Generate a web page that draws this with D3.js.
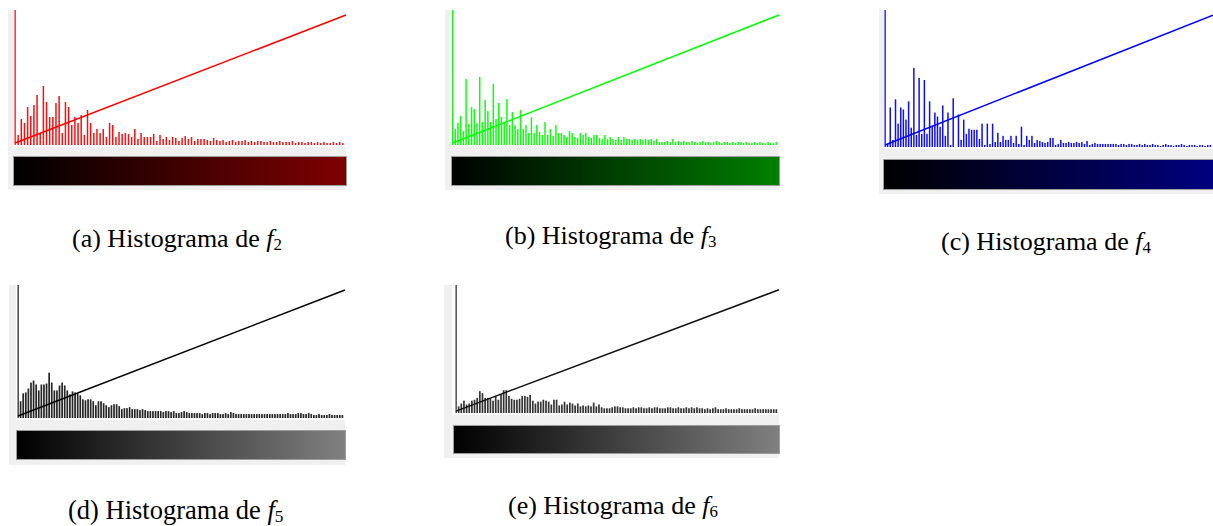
<!DOCTYPE html>
<html>
<head>
<meta charset="utf-8">
<script src="https://cdn.jsdelivr.net/npm/d3@7"></script>
<style>
  body { margin: 0; background: #fff; }
  svg { display: block; }
</style>
</head>
<body>
<div id="chart"></div>
<script>
// histogram heights (first bin is the clipped level 0)
var histA = [135, 10, 26, 22, 38, 29, 40, 50, 12, 59, 43, 28, 28, 42, 49, 12, 43, 38, 20, 28,
  22, 30, 10, 35, 22, 12, 16, 12, 16, 8, 22, 20, 8, 13, 11, 12, 11, 8, 16, 6,
  12, 8, 8, 8, 11, 4, 10, 6, 8, 5, 8, 7, 4, 7, 9, 6, 8, 4, 6, 6,
  6, 5, 4, 7, 5, 4, 5, 3, 4, 5, 3, 4, 4, 5, 3, 4, 3, 4, 4, 3,
  3, 4, 3, 3, 4, 3, 3, 3, 4, 2, 3, 3, 2, 3, 3, 2, 3, 2, 3, 2, 2, 3, 2, 3, 2];
var histB = [135, 16, 22, 29, 14, 66, 21, 38, 36, 22, 68, 23, 45, 34, 23, 61, 26, 42, 28, 23,
  46, 20, 33, 20, 16, 35, 16, 20, 12, 28, 12, 20, 13, 10, 23, 10, 16, 9, 20, 12,
  12, 10, 8, 14, 12, 8, 7, 12, 10, 12, 8, 7, 10, 10, 7, 6, 10, 6, 8, 6,
  5, 8, 5, 8, 6, 6, 5, 6, 5, 6, 5, 6, 5, 6, 4, 6, 3, 3, 3, 4,
  3, 6, 3, 4, 3, 4, 3, 3, 4, 3, 2, 3, 4, 3, 3, 2, 3, 4, 3, 2,
  3, 3, 2, 3, 2, 3, 3, 2, 3, 2, 2, 3, 2, 3, 2, 2, 3, 2, 2, 3];
var histC = [135, 3, 39, 7, 47, 23, 39, 37, 27, 45, 19, 78, 12, 68, 13, 66, 13, 45, 21, 34,
  30, 20, 41, 11, 34, 2, 48, 0, 32, 7, 27, 13, 18, 17, 17, 17, 8, 23, 2, 23,
  3, 23, 5, 14, 5, 11, 7, 7, 11, 4, 11, 3, 20, 2, 11, 7, 11, 4, 7, 6,
  5, 4, 5, 9, 9, 2, 3, 7, 4, 4, 5, 4, 4, 5, 4, 5, 3, 6, 2, 3,
  4, 3, 3, 3, 3, 3, 3, 3, 3, 2, 3, 3, 2, 3, 3, 2, 2, 3, 2, 3,
  2, 2, 3, 2, 2, 1, 2, 3, 2, 2, 1, 2, 2, 3, 2, 1, 2, 2, 2, 1, 2, 2, 1, 2, 2];
var histD = [135, 17, 25, 26, 30, 36, 38, 34, 28, 34, 34, 35, 46, 36, 28, 28, 33, 36, 33, 28,
  24, 27, 26, 25, 23, 19, 18, 19, 19, 17, 13, 17, 17, 15, 13, 11, 13, 14, 14, 12,
  9, 10, 10, 11, 9, 9, 9, 8, 9, 8, 7, 7, 7, 7, 7, 7, 6, 7, 7, 6,
  7, 5, 5, 6, 7, 6, 5, 5, 5, 5, 5, 4, 5, 5, 4, 5, 5, 5, 4, 4,
  5, 4, 6, 5, 4, 4, 4, 4, 4, 4, 4, 4, 4, 4, 4, 4, 4, 4, 4, 4,
  4, 4, 4, 4, 5, 4, 4, 4, 5, 5, 4, 4, 5, 4, 3, 3, 4, 3, 3, 3, 4, 3, 3, 3, 3, 3];
var histE = [135, 7, 10, 13, 9, 10, 13, 14, 16, 23, 21, 16, 16, 15, 13, 18, 14, 20, 24, 24,
  18, 15, 14, 14, 15, 18, 18, 17, 19, 13, 10, 12, 12, 14, 13, 12, 9, 14, 14, 8,
  9, 12, 9, 11, 10, 8, 10, 7, 8, 7, 8, 7, 11, 7, 9, 6, 5, 5, 5, 6,
  7, 7, 6, 6, 5, 5, 5, 6, 5, 6, 6, 5, 5, 6, 5, 6, 6, 5, 5, 5,
  6, 6, 5, 5, 6, 5, 5, 6, 5, 6, 5, 6, 5, 5, 4, 5, 4, 5, 6, 4,
  4, 4, 5, 4, 4, 4, 4, 5, 4, 4, 4, 4, 4, 5, 4, 4, 4, 4, 4, 4, 4, 4];

// transfer line: output level at first and last bin
var transferLine = [2, 130];

var captionLetters = ["a", "b", "c", "d", "e"];
var captionIndex = ["2", "3", "4", "5", "6"];

var svgWidth = 1213;
var svgHeight = 526;

var svg = d3.select("#chart")
  .append("svg")
  .attr("width", svgWidth)
  .attr("height", svgHeight);

var defs = svg.append("defs");

// layout of the five panels (cap = x, baseline, font size)
var panels = [
  {hist: histA, color: "#ff0000", end: "#800000",
   box: [8, 346, 10, 190], plot: [14, 15, 10, 145, 147], grad: [13, 156, 185], cap: [72, 247, 26]},
  {hist: histB, color: "#00ff00", end: "#008000",
   box: [445, 779, 10, 190], plot: [450, 452.5, 10, 145, 146], grad: [451, 156, 185], cap: [505, 244, 26]},
  {hist: histC, color: "#0000ff", end: "#000080",
   box: [879, 1213, 10, 194], plot: [884, 885, 10, 147, 149], grad: [883, 159, 189], cap: [941, 250, 26]},
  {hist: histD, color: "#000000", end: "#808080",
   box: [9, 345, 285, 465], plot: [16, 18, 285, 418, 420], grad: [16, 430, 459], cap: [68, 519, 26.5]},
  {hist: histE, color: "#111111", end: "#808080",
   box: [444, 779, 285, 458], plot: [452, 456, 285, 413, 415], grad: [453, 425, 453], cap: [508, 514, 26]}
];

panels.forEach(function(p, k) {
  var g = svg.append("g");
  var right = p.box[1];

  // grey window background
  g.append("rect")
    .attr("x", p.box[0]).attr("y", p.box[2])
    .attr("width", right - p.box[0]).attr("height", p.box[3] - p.box[2])
    .attr("fill", "#f0f0f0");

  // white plot area
  g.append("rect")
    .attr("x", p.plot[0]).attr("y", p.plot[2])
    .attr("width", right - p.plot[0]).attr("height", p.plot[4] - p.plot[2])
    .attr("fill", "#ffffff");

  var n = p.hist.length;
  var xScale = d3.scaleLinear().domain([0, n]).range([p.plot[1], right]);
  var yScale = d3.scaleLinear().domain([0, 135]).range([p.plot[3], p.plot[2]]);

  var barW = k >= 3 ? 1.7 : 1.5;
  g.selectAll("rect.bar")
    .data(p.hist)
    .enter().append("rect")
    .attr("class", "bar")
    .attr("x", function(d, i) { return xScale(i) - (i === 0 ? 0.5 : barW / 2); })
    .attr("y", function(d) { return yScale(d); })
    .attr("width", function(d, i) { return i === 0 ? 1.3 : barW; })
    .attr("height", function(d) { return p.plot[3] - yScale(d); })
    .attr("fill", p.color)
    .attr("opacity", k >= 3 ? 0.85 : 0.95);

  // transfer function line
  var line = d3.line()
    .x(function(d, i) { return xScale(i * n); })
    .y(function(d) { return yScale(d); });

  g.append("path")
    .datum(transferLine)
    .attr("d", line)
    .attr("fill", "none")
    .attr("stroke", p.color)
    .attr("stroke-width", 1.5);

  // colour ramp under the histogram
  var gradId = "ramp" + k;
  var lg = defs.append("linearGradient").attr("id", gradId)
    .attr("x1", "0%").attr("x2", "100%").attr("y1", "0%").attr("y2", "0%");
  lg.append("stop").attr("offset", "0%").attr("stop-color", "#000000");
  lg.append("stop").attr("offset", "100%").attr("stop-color", p.end);

  g.append("rect")
    .attr("x", p.grad[0] + 0.5).attr("y", p.grad[1] + 0.5)
    .attr("width", right - p.grad[0]).attr("height", p.grad[2] - p.grad[1])
    .attr("fill", "url(#" + gradId + ")")
    .attr("stroke", "#9c9c9c")
    .attr("stroke-width", 1);

  // caption
  var fs = p.cap[2];
  var t = svg.append("text")
    .attr("x", p.cap[0]).attr("y", p.cap[1])
    .style("font-family", "'Liberation Serif', 'Times New Roman', serif")
    .style("font-size", fs + "px")
    .attr("fill", "#000");
  t.append("tspan").text("(" + captionLetters[k] + ") Histograma de ");
  t.append("tspan").style("font-style", "italic").text("f");
  t.append("tspan").style("font-size", (fs * 0.65) + "px").attr("dy", fs * 0.12).text(captionIndex[k]);
});
</script>
</body>
</html>
